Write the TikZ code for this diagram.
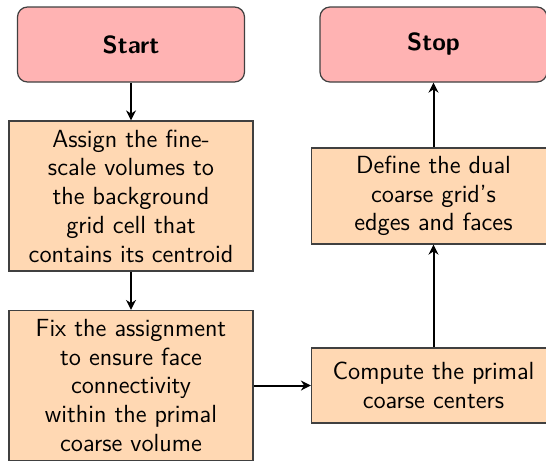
\documentclass[tikz,border=0pt]{standalone}
\usetikzlibrary{arrows.meta}
\definecolor{startfill}{RGB}{255,179,179}
\definecolor{procfill}{RGB}{255,216,179}
\begin{document}
\begin{tikzpicture}[x=0.5pt,y=-0.5pt,
  every node/.style={font=\sffamily\fontsize{12.4}{14.4}\selectfont},
  terminal/.style={draw=black!75,line width=0.6pt,fill=startfill,rounded corners=5pt,
    minimum width=113.5pt,minimum height=37.5pt,inner sep=0pt,
    font=\sffamily\bfseries\fontsize{12.4}{14.4}\selectfont},
  process/.style={draw=black!75,line width=0.6pt,fill=procfill,
    minimum width=122pt,inner sep=0pt,align=center},
  flow/.style={line width=1pt,-{Stealth[length=5pt,width=5pt]}}]
\clip (0,0) rectangle (546,462);
\node[terminal] (start) at (131,44.5) {Start};
\node[terminal] (stop) at (433.5,44.5) {Stop};
\node[process,minimum height=75pt] (assign) at (131,196) {Assign the fine-\\scale volumes to\\the background\\grid cell that\\contains its centroid};
\node[process,minimum height=75pt] (fix) at (131,385.5) {Fix the assignment\\to ensure face\\connectivity\\within the primal\\coarse volume};
\node[process,minimum height=37.5pt] (compute) at (433.5,385.5) {Compute the primal\\coarse centers};
\node[process,minimum height=48pt] (define) at (433.5,196) {Define the dual\\coarse grid's\\edges and faces};
\draw[flow] (start) -- (assign);
\draw[flow] (assign) -- (fix);
\draw[flow] (fix) -- (compute);
\draw[flow] (compute) -- (define);
\draw[flow] (define) -- (stop);
\end{tikzpicture}
\end{document}
